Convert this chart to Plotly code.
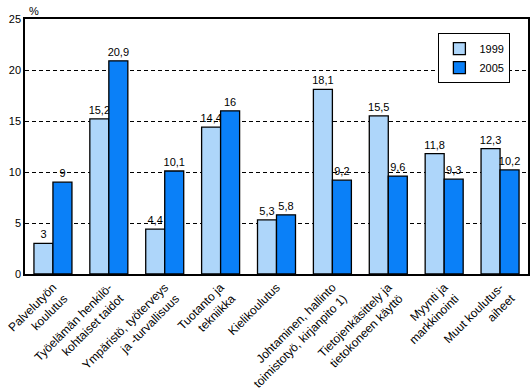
import plotly.graph_objects as go

categories = [
    "Palvelutyön<br>koulutus",
    "Työelämän henkilö-<br>kohtaiset taidot",
    "Ympäristö, työterveys<br>ja -turvallisuus",
    "Tuotanto ja<br>tekniikka",
    "Kielikoulutus",
    "Johtaminen, hallinto<br>toimistotyö, kirjanpito 1)",
    "Tietojenkäsittely ja<br>tietokoneen käyttö",
    "Myynti ja<br>markkinointi",
    "Muut koulutus-<br>aiheet",
]
v1999 = [3, 15.2, 4.4, 14.4, 5.3, 18.1, 15.5, 11.8, 12.3]
v2005 = [9, 20.9, 10.1, 16, 5.8, 9.2, 9.6, 9.3, 10.2]
labels1999 = ["3", "15,2", "4,4", "14,4", "5,3", "18,1", "15,5", "11,8", "12,3"]
labels2005 = ["9", "20,9", "10,1", "16", "5,8", "9,2", "9,6", "9,3", "10,2"]
yticks = [0, 5, 10, 15, 20, 25]

FONT = "Liberation Sans, Arial, sans-serif"

fig = go.Figure()
fig.add_trace(go.Bar(
    x=categories, y=v1999, name="1999", text=labels1999,
    textposition="outside", cliponaxis=False, constraintext="none",
    marker=dict(color="#AED6FA", line=dict(color="black", width=1.3)),
    textfont=dict(family=FONT, size=11, color="black"),
))
fig.add_trace(go.Bar(
    x=categories, y=v2005, name="2005", text=labels2005,
    textposition="outside", cliponaxis=False, constraintext="none",
    marker=dict(color="#0A80F8", line=dict(color="black", width=1.3)),
    textfont=dict(family=FONT, size=11, color="black"),
))

fig.update_layout(
    width=530, height=391,
    margin=dict(l=25, r=2, t=19, b=117, autoexpand=False),
    paper_bgcolor="white", plot_bgcolor="white",
    barmode="group", bargap=0.32, bargroupgap=0,
    uniformtext=dict(minsize=11, mode="show"),
    font=dict(family=FONT, size=11, color="black"),
    showlegend=True,
    legend=dict(x=0.965, y=0.945, xanchor="right", yanchor="top",
                bordercolor="black", borderwidth=1, bgcolor="white",
                font=dict(family=FONT, size=11, color="black"),
                itemwidth=30, tracegroupgap=0),
    xaxis=dict(tickangle=-45, showline=True, linecolor="black", linewidth=1.5,
               mirror=True, ticks="", automargin=False,
               tickfont=dict(family=FONT, size=12)),
    yaxis=dict(range=[0, 25], tickvals=yticks, showline=True, linecolor="black",
               linewidth=1.5, mirror=True, showgrid=True, gridcolor="black",
               griddash="4px,3px", gridwidth=1, ticks="", zeroline=False,
               automargin=False, tickfont=dict(family=FONT, size=11)),
    annotations=[dict(text="%", xref="paper", yref="paper", x=0, y=1,
                      xanchor="left", yanchor="bottom", showarrow=False,
                      xshift=2, yshift=0, font=dict(family=FONT, size=11))],
)

fig.write_html("out.html", config={"displayModeBar": False},
               post_script="document.body.style.margin='0px';document.body.style.overflow='hidden';")
